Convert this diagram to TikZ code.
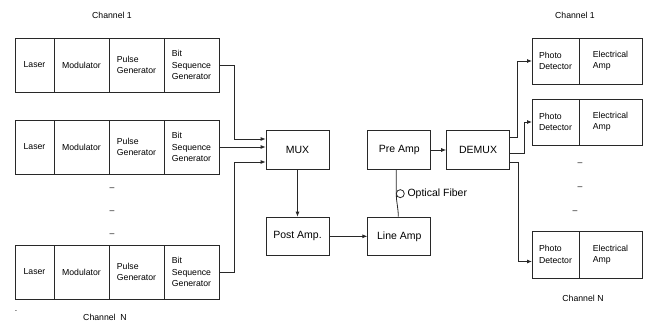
\documentclass[tikz,border=0pt]{standalone}
\usepackage{fontspec}
\setmainfont{Liberation Sans}
\usetikzlibrary{arrows.meta, positioning}
\definecolor{linegray}{RGB}{40,40,40}
\tikzset{
  cell/.style={
    rectangle, draw=linegray, line width=0.8pt, outer sep=0pt, inner sep=0pt,
    align=left, minimum height=54pt, font=\fontsize{8.7}{11.5}\selectfont
  },
  rcell/.style={cell, minimum height=46pt},
  unit/.style={
    rectangle, draw=linegray, line width=0.8pt,
    minimum width=63pt, minimum height=38.5pt, font=\fontsize{10.5}{12}\selectfont
  },
  loopring/.style={circle, draw=linegray, line width=0.8pt, minimum size=8pt, inner sep=0pt, outer sep=0pt},
  arrow/.style={-{Latex[length=5pt,width=4pt]}, line width=0.8pt, linegray},
  fiber/.style={line width=0.8pt, linegray},
  chan/.style={font=\fontsize{8.7}{10}\selectfont},
  gap/.style={font=\fontsize{8.7}{10}\selectfont},
}
\begin{document}
\begin{tikzpicture}[x=1pt, y=1pt, node distance=0pt]
  \useasboundingbox (0,0) rectangle (646,322);

  %% -- Transmitters, channel 1 --
  \node[cell, minimum width=39pt, anchor=north west] (laser1) at (15,284) {Laser};
  \node[cell, minimum width=55pt, right=of laser1] (mod1)   {Modulator};
  \node[cell, minimum width=55pt, right=of mod1]   (pulse1) {Pulse\\Generator};
  \node[cell, minimum width=55pt, right=of pulse1] (bit1)   {Bit\\Sequence\\Generator};

  %% -- Transmitters, channel 2 --
  \node[cell, minimum width=39pt, anchor=north west] (laser2) at (15,202) {Laser};
  \node[cell, minimum width=55pt, right=of laser2] (mod2)   {Modulator};
  \node[cell, minimum width=55pt, right=of mod2]   (pulse2) {Pulse\\Generator};
  \node[cell, minimum width=55pt, right=of pulse2] (bit2)   {Bit\\Sequence\\Generator};

  %% -- Transmitters, channel N --
  \node[cell, minimum width=39pt, anchor=north west] (laser3) at (15,77) {Laser};
  \node[cell, minimum width=55pt, right=of laser3] (mod3)   {Modulator};
  \node[cell, minimum width=55pt, right=of mod3]   (pulse3) {Pulse\\Generator};
  \node[cell, minimum width=55pt, right=of pulse3] (bit3)   {Bit\\Sequence\\Generator};

  %% -- Link --
  \node[unit] (mux) at (297.5,172) {MUX};
  \node[unit, below=47pt of mux]      (post)    {Post Amp.};
  \node[unit, right=38pt of post]     (lineamp) {Line Amp};
  \node[unit, above=47pt of lineamp]  (preamp)  {Pre Amp};
  \node[unit, right=15pt of preamp]   (demux)   {DEMUX};

  %% -- Receivers --
  \node[rcell, minimum width=47pt, anchor=north west] (pd1) at (532,284) {Photo\\Detector};
  \node[rcell, minimum width=63pt, right=of pd1] (ea1) {Electrical\\Amp};
  \node[rcell, minimum width=47pt, anchor=north west] (pd2) at (532,223) {Photo\\Detector};
  \node[rcell, minimum width=63pt, right=of pd2] (ea2) {Electrical\\Amp};
  \node[rcell, minimum width=47pt, minimum height=47pt, anchor=north west] (pd3) at (532,91) {Photo\\Detector};
  \node[rcell, minimum width=63pt, minimum height=47pt, right=of pd3] (ea3) {Electrical\\Amp};

  %% -- Labels --
  \node[chan] (ch1tx) at (112,307) {Channel 1};
  \node[chan] (chNtx) at (105,5)   {Channel~~N};
  \node[chan] (dot)   at (16,11)   {.};
  \node[chan] (ch1rx) at (575,307) {Channel 1};
  \node[chan] (chNrx) at (583,24)  {Channel N};
  \node[gap] (gapl1) at (112,133) {--};
  \node[gap] (gapl2) at (112,110) {--};
  \node[gap] (gapl3) at (112,87)  {--};
  \node[gap] (gapr1) at (580,158) {--};
  \node[gap] (gapr2) at (580,134) {--};
  \node[gap] (gapr3) at (575,110) {--};

  %% -- Arrows into MUX --
  \draw[arrow] (bit1.east) -- ++(15,0) |- ([yshift=11pt]mux.west);
  \draw[arrow] (bit2.east) -- (bit2.east -| mux.west);
  \draw[arrow] (bit3.east) -- ++(15,0) |- ([yshift=-12pt]mux.west);

  %% -- Amplifier chain --
  \draw[arrow] (mux) -- (post);
  \draw[arrow] (post) -- (lineamp);
  \draw[arrow] (preamp) -- (demux);

  %% -- Optical fiber --
  \node[loopring, below=20pt of preamp, xshift=1pt] (loop) {};
  \node[font=\fontsize{10.5}{12}\selectfont, inner sep=0pt, right=3pt of loop] (fiberlbl) {Optical Fiber};
  \draw[fiber] ([xshift=-3pt]preamp.south) to[out=-90,in=90] (loop.west)
    to[out=-90,in=90] ([xshift=-1pt]lineamp.north);

  %% -- Arrows out of DEMUX --
  \draw[arrow] ([yshift=12.5pt]demux.east) -- ++(7,0) |- (pd1.west);
  \draw[arrow] ([yshift=-3.5pt]demux.east) -- ++(14,0) |- (pd2.west);
  \draw[arrow] ([yshift=-12.5pt]demux.east) -- ++(8,0) |- ([yshift=-7pt]pd3.west);
\end{tikzpicture}
\end{document}
